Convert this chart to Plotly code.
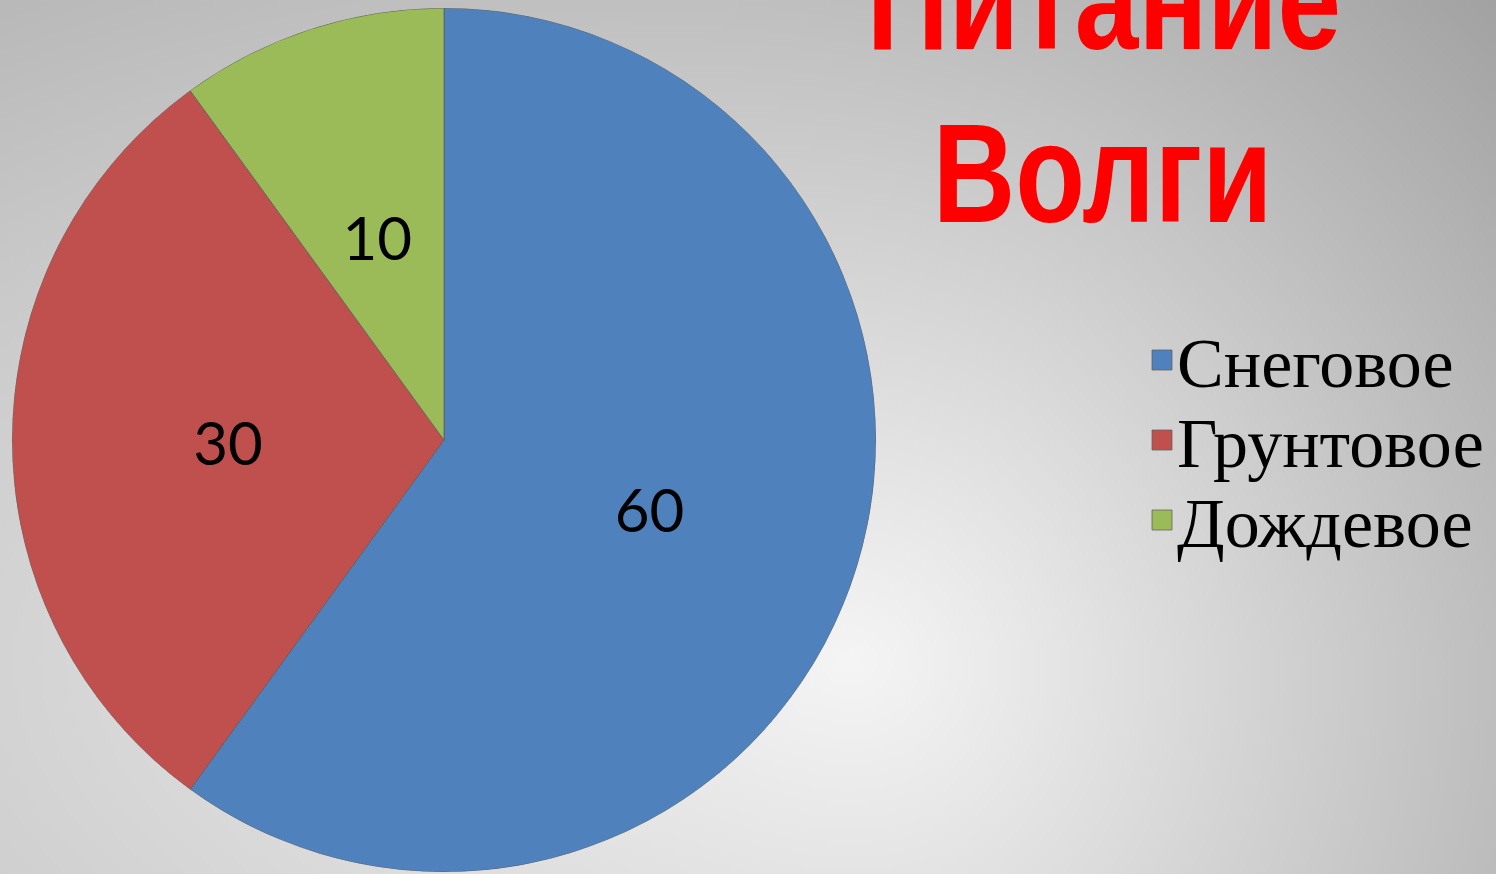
import base64, struct, zlib
import numpy as np
import plotly.graph_objects as go

# ---- data ----
categories = ["Снеговое", "Грунтовое", "Дождевое"]
values = [60, 30, 10]
slice_colors = ["#4f81bd", "#c0504d", "#9bbb59"]
title_lines = ["Питание", "Волги"]

W, H = 1496, 874

# ---- background radial gradient as an image (style only) ----
def make_png(arr):
    h, w, _ = arr.shape
    raw = b"".join(b"\x00" + arr[y].tobytes() for y in range(h))
    def chunk(t, d):
        return struct.pack(">I", len(d)) + t + d + struct.pack(">I", zlib.crc32(t + d) & 0xffffffff)
    return (b"\x89PNG\r\n\x1a\n" + chunk(b"IHDR", struct.pack(">IIBBBBB", w, h, 8, 2, 0, 0, 0))
            + chunk(b"IDAT", zlib.compress(raw, 9)) + chunk(b"IEND", b""))

gw, gh = 374, 219
ys, xs = np.mgrid[0:gh, 0:gw].astype(float)
px = (xs + 0.5) * W / gw
py = (ys + 0.5) * H / gh
cx, cy = 850.0, 660.0
dx = px - cx
dy = py - cy
blend = 1.0 / (1.0 + np.exp(-dx / 150.0))
ax = 0.0392 + (0.0847 - 0.0392) * blend
drop = np.sqrt((ax * dx) ** 2 + (0.0756 * dy) ** 2)
drop = drop + 9.0 * blend * np.clip(-dy / 660.0, 0, 1)
val = np.clip(245 - drop, 150, 250).astype(np.uint8)
img = np.stack([val, val, val], axis=-1)
bg_uri = "data:image/png;base64," + base64.b64encode(make_png(img)).decode()

# ---- slice geometry on the polar angular axis (degrees, clockwise from top) ----
total = float(sum(values))
widths = [v / total * 360.0 for v in values]
starts = np.concatenate([[0.0], np.cumsum(widths)[:-1]])
mids = [s + w / 2.0 for s, w in zip(starts, widths)]

legend_ids = ["legend", "legend2", "legend3"]
legend_rows_px = [360, 440, 520]

fig = go.Figure()
for name, v, col, th, wd, lg in zip(categories, values, slice_colors, mids, widths, legend_ids):
    fig.add_trace(go.Barpolar(
        name=name, r=[1], theta=[th], width=[wd], legend=lg,
        marker=dict(color=col, line=dict(color="rgba(95,95,95,0.75)", width=1)),
        hovertemplate=name + ": " + str(v) + "<extra></extra>",
        subplot="polar",
    ))

# value labels, on a label layer whose centre sits a little lower (as in the original)
R1 = 432.0
R2 = 400.0
fig.add_trace(go.Scatterpolar(
    r=[0.5] * len(values), theta=mids, text=[str(v) for v in values],
    mode="text", textfont=dict(family="Lato", size=60, color="#000000"),
    showlegend=False, hoverinfo="skip", subplot="polar2",
))

ang = dict(rotation=90, direction="clockwise", visible=False,
           showgrid=False, showline=False, ticks="")
legend_common = dict(bgcolor="rgba(0,0,0,0)", xanchor="left", yanchor="middle",
                     font=dict(family="Liberation Serif", size=70, color="#000000"),
                     itemwidth=30)
lx = 1137 / W
fig.update_layout(
    width=W, height=H,
    margin=dict(l=0, r=0, t=0, b=0),
    paper_bgcolor="#c8c8c8",
    images=[dict(source=bg_uri, xref="paper", yref="paper", x=0, y=1,
                 sizex=1, sizey=1, xanchor="left", yanchor="top",
                 sizing="stretch", layer="below")],
    polar=dict(
        domain=dict(x=[(444 - R1) / W, (444 + R1) / W], y=[1 - (440 + R1) / H, 1 - (440 - R1) / H]),
        bgcolor="rgba(0,0,0,0)", hole=0, angularaxis=ang,
        radialaxis=dict(range=[0, 1], visible=False, showgrid=False, showline=False, ticks=""),
    ),
    polar2=dict(
        domain=dict(x=[(444 - R2) / W, (444 + R2) / W], y=[1 - (450 + R2) / H, 1 - (450 - R2) / H]),
        bgcolor="rgba(0,0,0,0)", hole=0, angularaxis=ang,
        radialaxis=dict(range=[0, R2 / R1], visible=False, showgrid=False, showline=False, ticks=""),
    ),
    showlegend=True,
    legend=dict(x=lx, y=1 - legend_rows_px[0] / H, **legend_common),
    legend2=dict(x=lx, y=1 - legend_rows_px[1] / H, **legend_common),
    legend3=dict(x=lx, y=1 - legend_rows_px[2] / H, **legend_common),
    annotations=[
        dict(text=title_lines[0], x=1104 / W, y=1.0, xref="paper", yref="paper",
             xanchor="center", yanchor="middle", showarrow=False,
             font=dict(family="Liberation Sans", size=141, color="#ff0000", weight="bold")),
        dict(text=title_lines[1], x=1102 / W, y=1 - 173 / H, xref="paper", yref="paper",
             xanchor="center", yanchor="middle", showarrow=False,
             font=dict(family="Liberation Sans", size=141, color="#ff0000", weight="bold")),
    ],
)

post = """
document.body.style.margin='0px';
document.querySelectorAll('.legendpoints path').forEach(function(p){
  p.setAttribute('d','M15,10H-5V-10H15Z');
});
document.querySelectorAll('.annotation-text').forEach(function(t){
  t.style.transformBox='fill-box';
  t.style.transformOrigin='center';
  t.style.transform='scaleX(0.81)';
});
"""
fig.write_html("out.html", post_script=post, config={"displayModeBar": False})
